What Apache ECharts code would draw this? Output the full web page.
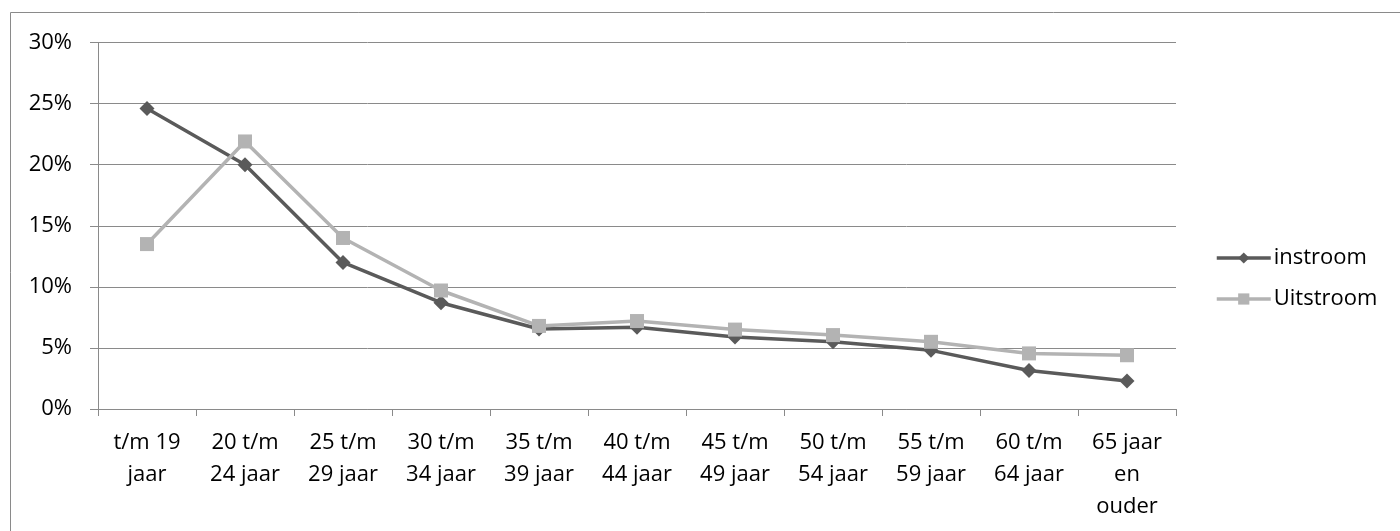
<!DOCTYPE html>
<html>
<head>
<meta charset="utf-8">
<script src="https://cdn.jsdelivr.net/npm/echarts@6/dist/echarts.min.js"></script>
<style>
html,body{margin:0;padding:0;background:#fff;}
#chart{width:1400px;height:531px;}
</style>
</head>
<body>
<div id="chart"></div>
<script>
const categories = ['t/m 19\njaar','20 t/m\n24 jaar','25 t/m\n29 jaar','30 t/m\n34 jaar','35 t/m\n39 jaar','40 t/m\n44 jaar','45 t/m\n49 jaar','50 t/m\n54 jaar','55 t/m\n59 jaar','60 t/m\n64 jaar','65 jaar\nen\nouder'];
const instroom = [24.6, 20.0, 12.0, 8.7, 6.55, 6.7, 5.9, 5.5, 4.8, 3.15, 2.3];
const uitstroom = [13.5, 21.9, 14.0, 9.7, 6.8, 7.2, 6.5, 6.05, 5.5, 4.55, 4.4];
const yTicks = {min: 0, max: 30, interval: 5};

const FONT = '"Open Sans", sans-serif';
const chart = echarts.init(document.getElementById('chart'), null, {renderer: 'canvas'});
chart.setOption({
  animation: false,
  backgroundColor: '#fff',
  graphic: [{
    type: 'rect', silent: true,
    shape: {x: 10.5, y: 12.5, width: 1400, height: 540},
    style: {fill: 'none', stroke: '#8a8a8a', lineWidth: 1}
  }],
  grid: {left: 98, right: 224, top: 42.5, bottom: 122, containLabel: false},
  legend: {
    orient: 'vertical', left: 1210, top: 240,
    itemWidth: 54, itemHeight: 14, itemGap: 15,
    lineStyle: {width: 3.5},
    textStyle: {fontFamily: FONT, fontSize: 22, color: '#000', lineHeight: 26, padding: [0,0,0,-2]},
    data: ['instroom', 'Uitstroom']
  },
  xAxis: {
    type: 'category', data: categories, boundaryGap: true,
    axisLine: {lineStyle: {color: '#8a8a8a', width: 1}},
    axisTick: {show: true, length: 7, lineStyle: {color: '#8a8a8a'}},
    axisLabel: {fontFamily: FONT, fontSize: 22, color: '#000', lineHeight: 32, margin: 18, interval: 0, align: 'center'}
  },
  yAxis: {
    type: 'value', min: yTicks.min, max: yTicks.max, interval: yTicks.interval,
    axisLine: {show: true, lineStyle: {color: '#8a8a8a', width: 1}},
    axisTick: {show: true, length: 8, lineStyle: {color: '#8a8a8a'}},
    splitLine: {show: true, lineStyle: {color: '#8a8a8a', width: 1}},
    axisLabel: {fontFamily: FONT, fontSize: 22, color: '#000', margin: 26, formatter: '{value}%'}
  },
  series: [
    {
      name: 'instroom', type: 'line', data: instroom,
      symbol: 'diamond', symbolSize: 15,
      lineStyle: {color: '#5a5a5a', width: 3.5},
      itemStyle: {color: '#5a5a5a'}
    },
    {
      name: 'Uitstroom', type: 'line', data: uitstroom,
      symbol: 'rect', symbolSize: 14,
      lineStyle: {color: '#b3b3b3', width: 3.5},
      itemStyle: {color: '#b3b3b3'}
    }
  ]
});
</script>
</body>
</html>
